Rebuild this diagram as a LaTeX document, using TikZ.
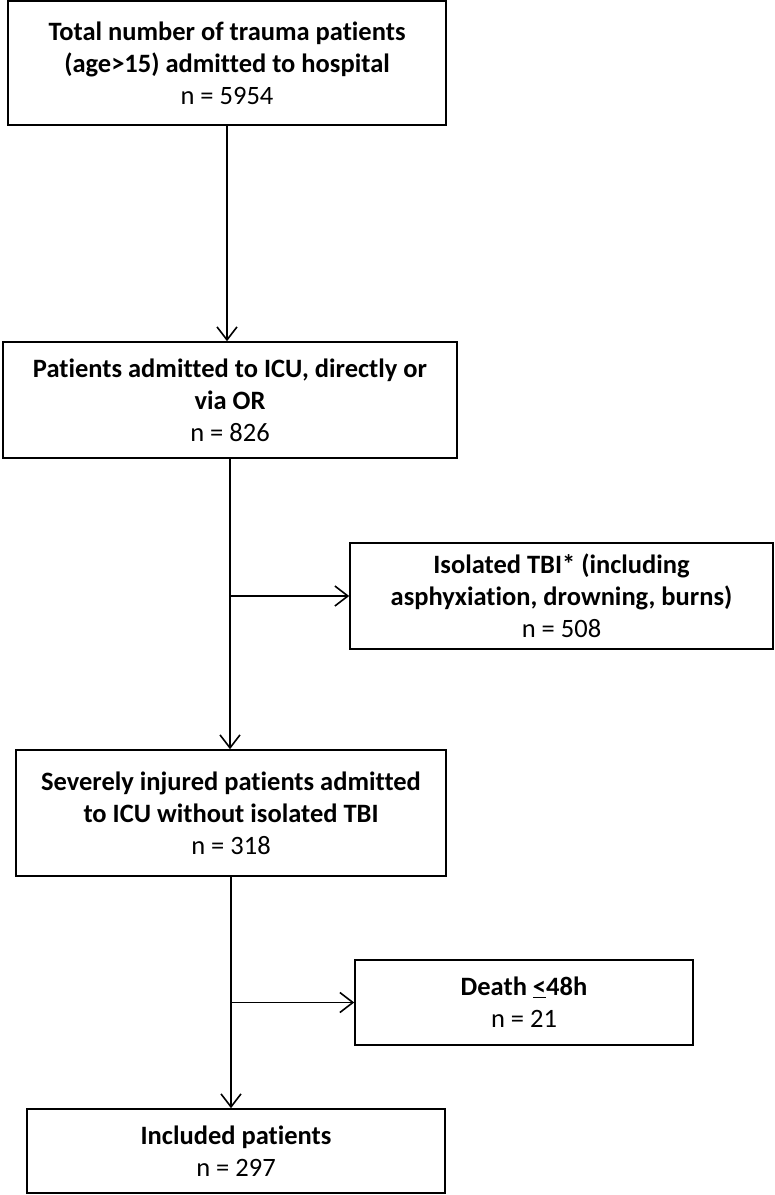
\documentclass[tikz,border=0pt]{standalone}
\usepackage{fontspec}
\setmainfont[Ligatures=NoCommon]{Carlito}
\usetikzlibrary{arrows.meta}
\newcommand{\hd}[1]{\textbf{#1}}
\tikzset{
  flowbox/.style={draw, line width=1.6pt, inner sep=0pt, align=center,
    font=\fontsize{26.5}{32}\selectfont},
  flowarr/.style={line width=1.6pt,
    -{Straight Barb[length=13pt,width=20pt,line width=1.6pt]}}
}
\begin{document}
\begin{tikzpicture}[x=1pt,y=-1pt]
  \useasboundingbox (0,0) rectangle (775,1195);
  \node[flowbox, minimum width=438pt, minimum height=124pt] (total) at (227,63)
    {\hd{Total number of trauma patients}\\\hd{(age>15) admitted to hospital}\\n = 5954};
  \node[flowbox, minimum width=454pt, minimum height=116pt] (icu) at (230,400)
    {\hd{Patients admitted to ICU, directly or}\\\hd{via OR}\\n = 826};
  \node[flowbox, minimum width=423pt, minimum height=106pt] (tbi) at (561.5,596)
    {\hd{Isolated TBI* (including}\\\hd{asphyxiation, drowning, burns)}\\n = 508};
  \node[flowbox, minimum width=430pt, minimum height=126pt] (severe) at (231,813)
    {\hd{Severely injured patients admitted}\\\hd{to ICU without isolated TBI}\\n = 318};
  \node[flowbox, minimum width=338pt, minimum height=85pt] (death) at (524,1002.5)
    {\hd{Death \underline{<}48h}\\n = 21};
  \node[flowbox, minimum width=418pt, minimum height=84pt] (incl) at (236,1151)
    {\hd{Included patients}\\n = 297};
  \coordinate (split1) at (icu.south |- tbi.west);
  \coordinate (split2) at (severe.south |- death.west);
  \begin{scope}[flowarr]
    \draw (total.south) -- (total.south |- icu.north);
    \draw (icu.south) -- (icu.south |- severe.north);
    \draw (split1) -- (tbi.west);
    \draw (severe.south) -- (severe.south |- incl.north);
    \draw (split2) -- (death.west);
  \end{scope}
\end{tikzpicture}
\end{document}
